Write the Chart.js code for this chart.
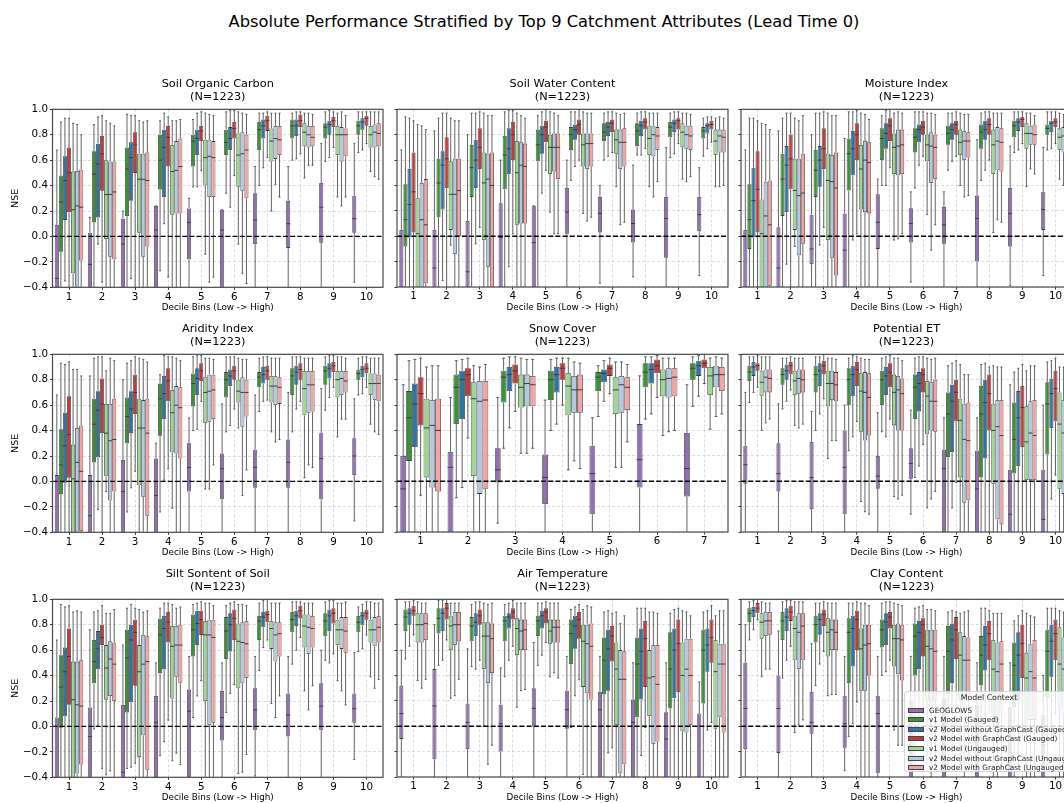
<!DOCTYPE html>
<html>
<head>
<meta charset="utf-8">
<script src="https://cdn.jsdelivr.net/npm/chart.js@4.4.1/dist/chart.umd.min.js"></script>
<style>
  body { margin: 0; background: #fff; }
  #fig { position: relative; width: 1064px; height: 803px; overflow: hidden; font-family: 'DejaVu Sans', sans-serif; }
  #suptitle { position: absolute; left: 0; width: 1088px; top: 12px; text-align: center; font-size: 16.3px; color: #000; }
  canvas { position: absolute; }
  #legend { position: absolute; left: 904px; top: 691px; width: 168px; height: 81px; background: rgba(255,255,255,0.82);
    border: 1px solid #d6d6d6; border-radius: 3px; box-sizing: border-box; color: #222; }
  #legend .ttl { position: absolute; left: 0; width: 168px; top: 1px; text-align: center; font-size: 7.8px; }
  #legend .row { position: absolute; left: 3px; height: 9px; font-size: 7.3px; line-height: 9px; white-space: nowrap; }
  #legend .sw { position: absolute; left: 0; top: 2px; width: 16px; height: 5px; border: 0.8px solid #444; box-sizing: border-box; }
  #legend .lb { position: absolute; left: 21px; top: 0; }
</style>
</head>
<body>
<div id="fig">
  <div id="suptitle">Absolute Performance Stratified by Top 9 Catchment Attributes (Lead Time 0)</div>
</div>
<script>
const seriesNames = ['GEOGLOWS', 'v1 Model (Gauged)', 'v2 Model without GraphCast (Gauged)', 'v2 Model with GraphCast (Gauged)',
  'v1 Model (Ungauged)', 'v2 Model without GraphCast (Ungauged)', 'v2 Model with GraphCast (Ungauged)'];
const seriesColors = ['#9370b2', '#3a923a', '#3173a1', '#c03d3e', '#9ed693', '#b4c8e2', '#f2a3a3'];
const decileLabels = ['1', '2', '3', '4', '5', '6', '7', '8', '9', '10'];
const snowLabels = ['1', '2', '3', '4', '5', '6', '7'];
const panelTitles = ['Soil Organic Carbon', 'Soil Water Content', 'Moisture Index', 'Aridity Index', 'Snow Cover',
  'Potential ET', 'Silt Sontent of Soil', 'Air Temperature', 'Clay Content'];
const sampleSize = 1223;

// each row = one decile bin, columns in seriesNames order

// Soil Organic Carbon
const socLo = [[-1,-1,-0.35,-1,-1,-1,-1],[-1,-1,-0.06,-0.36,-1,-1,-1],[-1,-1,-0.33,-1,-1,-1,-1],[-1,-0.27,0.10,-0.32,-1,-1,-1],
  [-1,0.39,0.39,0.52,-0.14,-0.36,-0.32],[-1,0.34,0.23,0.48,-0.06,-0.29,-0.37],[-1,0.40,0.54,0.62,0.20,0.41,0.31],
  [-1,0.60,0.61,0.65,0.46,0.56,0.56],[-1,0.59,0.62,0.70,0.31,0.24,0.31],[-0.36,0.66,0.68,0.73,0.51,0.47,0.45]];
const socQ1 = [[-0.6,-0.12,0.13,0.19,-0.29,-0.5,-0.19],[-0.6,0.11,0.15,0.36,-0.02,-0.16,-0.18],[-0.6,0.16,0.28,0.50,0.03,-0.16,-0.08],
  [-0.6,0.37,0.31,0.55,0.17,0.18,0.18],[-0.18,0.55,0.64,0.75,0.40,0.31,0.31],[-0.6,0.64,0.68,0.77,0.39,0.36,0.30],
  [-0.06,0.68,0.77,0.83,0.59,0.61,0.64],[-0.09,0.77,0.79,0.86,0.71,0.70,0.71],[-0.05,0.77,0.80,0.86,0.64,0.59,0.63],
  [0.03,0.80,0.84,0.87,0.70,0.70,0.71]];
const socMed = [[-0.33,0.27,0.44,0.50,0.21,0.24,0.23],[-0.22,0.49,0.57,0.65,0.33,0.33,0.35],[-0.06,0.53,0.62,0.72,0.45,0.45,0.44],
  [0.05,0.60,0.70,0.78,0.51,0.52,0.55],[0.11,0.75,0.77,0.83,0.62,0.63,0.62],[0.05,0.74,0.77,0.85,0.64,0.65,0.68],
  [0.13,0.84,0.87,0.91,0.75,0.77,0.76],[0.10,0.87,0.87,0.91,0.82,0.80,0.78],[0.23,0.86,0.88,0.91,0.80,0.80,0.80],
  [0.14,0.87,0.90,0.93,0.80,0.82,0.81]];
const socQ3 = [[0.09,0.48,0.63,0.70,0.51,0.515,0.525],[0.03,0.67,0.73,0.79,0.60,0.59,0.59],[0.14,0.70,0.74,0.82,0.65,0.65,0.66],
  [0.24,0.80,0.84,0.87,0.72,0.75,0.77],[0.22,0.80,0.84,0.87,0.76,0.76,0.75],[0.21,0.84,0.86,0.90,0.81,0.82,0.80],
  [0.34,0.90,0.92,0.95,0.85,0.87,0.87],[0.28,0.92,0.92,0.96,0.89,0.87,0.87],[0.42,0.89,0.91,0.94,0.87,0.86,0.85],
  [0.32,0.91,0.93,0.95,0.87,0.88,0.89]];
const socHi = [[0.68,0.90,0.93,0.93,0.89,0.88,0.80],[0.15,0.88,0.94,0.95,0.91,0.89,0.87],[0.20,0.96,0.95,0.95,0.91,0.90,0.91],
  [0.24,0.91,0.97,0.94,0.91,0.91,0.92],[0.30,0.92,0.97,0.98,0.97,0.96,0.95],[0.21,0.98,0.99,0.99,0.98,0.97,0.96],
  [0.55,0.97,0.97,0.98,0.97,0.97,0.97],[0.55,0.97,0.98,0.98,0.97,0.97,0.96],[0.73,0.98,0.99,0.98,0.97,0.98,0.95],
  [0.73,0.98,0.98,0.98,0.98,0.98,0.98]];

// Soil Water Content
const swcLo = [[-1,-1,-1,-1,-1,-1,-1],[-1,-1,-0.35,-1,-0.07,-1,-1],[-1,-1,-0.06,0.07,-1,-1,-1],[-1,-1,-0.24,0.02,-1,-1,-1],
  [-1,-1,0.34,0.52,0.19,0.02,0.02],[-1,0.44,0.55,0.60,0.18,0.12,0.15],[-0.37,0.60,0.63,0.66,0.39,0.09,0.11],
  [-0.32,0.64,0.64,0.69,0.39,0.31,0.43],[-1,0.62,0.65,0.73,0.45,0.43,0.47],[-0.31,0.63,0.69,0.74,0.39,0.39,0.40]];
const swcQ1 = [[-0.9,-0.08,-0.01,0.03,-0.6,-0.6,-0.37],[-0.6,0.15,0.21,0.38,0.05,-0.14,0.0],[-0.6,0.31,0.38,0.53,-0.03,-0.24,-0.6],
  [-0.6,0.37,0.49,0.60,0.09,0.10,0.10],[-0.6,0.59,0.65,0.74,0.49,0.51,0.45],[0.02,0.68,0.76,0.80,0.55,0.53,0.55],
  [0.03,0.75,0.79,0.82,0.65,0.53,0.55],[-0.05,0.71,0.79,0.84,0.64,0.63,0.68],[-0.17,0.78,0.82,0.84,0.70,0.69,0.68],
  [0.04,0.77,0.81,0.84,0.64,0.66,0.66]];
const swcMed = [[-0.5,0.13,0.25,0.35,0.02,0.13,0.09],[-0.25,0.42,0.56,0.61,0.33,0.33,0.36],[-0.28,0.54,0.60,0.70,0.42,0.45,0.40],
  [-0.01,0.64,0.69,0.80,0.50,0.56,0.55],[-0.05,0.72,0.80,0.86,0.70,0.70,0.70],[0.19,0.80,0.84,0.88,0.72,0.73,0.73],
  [0.18,0.82,0.86,0.89,0.76,0.74,0.74],[0.10,0.83,0.87,0.90,0.77,0.80,0.79],[0.14,0.86,0.89,0.91,0.82,0.80,0.79],
  [0.17,0.83,0.87,0.88,0.75,0.79,0.78]];
const swcQ3 = [[0.05,0.41,0.53,0.66,0.30,0.42,0.45],[0.05,0.61,0.67,0.78,0.59,0.61,0.61],[0.12,0.72,0.76,0.85,0.66,0.65,0.66],
  [0.26,0.79,0.85,0.90,0.75,0.74,0.73],[0.24,0.84,0.87,0.91,0.80,0.81,0.81],[0.38,0.86,0.88,0.92,0.81,0.81,0.81],
  [0.31,0.89,0.90,0.92,0.84,0.84,0.85],[0.21,0.89,0.91,0.93,0.87,0.87,0.86],[0.31,0.90,0.92,0.93,0.89,0.87,0.87],
  [0.31,0.86,0.89,0.91,0.84,0.84,0.84]];
const swcHi = [[0.68,0.94,0.93,0.91,0.88,0.87,0.84],[0.83,0.93,0.97,0.97,0.93,0.91,0.91],[0.80,0.97,0.97,0.98,0.97,0.95,0.95],
  [0.60,0.98,0.99,0.99,0.97,0.95,0.93],[0.24,0.95,0.98,1.00,0.98,0.97,0.95],[0.60,0.98,0.98,1.00,0.98,0.97,0.97],
  [0.40,0.97,0.98,0.98,0.97,0.96,0.97],[0.56,0.97,0.98,0.98,0.97,0.97,0.97],[0.70,0.97,0.98,0.98,0.97,0.97,0.96],
  [0.54,0.93,0.94,0.94,0.93,0.94,0.93]];

// Moisture Index
const miLo = [[-1,-1,-1,-1,-1,-1,-1],[-1,-1,-0.22,-1,-0.08,-1,-1],[-1,-1,-0.07,0.07,-1,-1,-1],[-1,-1,-0.03,0.02,-1,-1,-1],
  [-1,0.40,0.40,0.54,-0.03,-0.02,0.02],[-0.36,0.38,0.56,0.63,0.17,-0.11,0.09],[-1,0.52,0.59,0.63,0.40,0.31,0.32],
  [-1,0.44,0.52,0.60,0.03,0.13,0.11],[-0.39,0.66,0.68,0.73,0.39,0.53,0.49],[-0.31,0.68,0.69,0.73,0.45,0.40,0.40]];
const miQ1 = [[-0.9,-0.10,-0.01,0.03,-0.6,-0.6,-0.39],[-0.6,0.16,0.19,0.37,0.05,-0.15,-0.06],[-0.22,0.31,0.39,0.53,-0.03,-0.17,-0.31],
  [-0.6,0.36,0.48,0.60,0.21,0.19,0.18],[-0.10,0.60,0.69,0.75,0.49,0.48,0.49],[-0.05,0.66,0.74,0.80,0.59,0.42,0.45],
  [-0.06,0.72,0.76,0.80,0.64,0.60,0.62],[-0.20,0.69,0.76,0.80,0.49,0.52,0.51],[-0.08,0.78,0.83,0.86,0.69,0.72,0.72],
  [0.05,0.80,0.82,0.86,0.68,0.66,0.66]];
const miMed = [[-0.5,0.13,0.28,0.37,0.02,0.16,0.09],[-0.25,0.45,0.56,0.61,0.36,0.32,0.34],[-0.10,0.52,0.60,0.69,0.44,0.43,0.38],
  [-0.11,0.65,0.69,0.80,0.53,0.60,0.58],[0.11,0.77,0.81,0.87,0.70,0.71,0.72],[0.10,0.78,0.84,0.86,0.72,0.71,0.70],
  [0.09,0.81,0.84,0.88,0.74,0.75,0.75],[0.14,0.82,0.84,0.88,0.72,0.75,0.74],[0.18,0.87,0.90,0.92,0.81,0.81,0.80],
  [0.21,0.85,0.89,0.90,0.78,0.79,0.78]];
const miQ3 = [[0.05,0.41,0.54,0.67,0.29,0.43,0.44],[0.07,0.65,0.71,0.80,0.61,0.61,0.65],[0.17,0.68,0.71,0.85,0.65,0.64,0.66],
  [0.18,0.77,0.83,0.89,0.72,0.75,0.74],[0.33,0.85,0.89,0.93,0.81,0.84,0.84],[0.22,0.85,0.88,0.91,0.80,0.82,0.80],
  [0.23,0.87,0.89,0.91,0.84,0.83,0.82],[0.32,0.88,0.91,0.93,0.84,0.86,0.85],[0.38,0.91,0.93,0.94,0.89,0.87,0.88],
  [0.35,0.88,0.91,0.93,0.85,0.86,0.85]];
const miHi = [[0.68,0.93,0.93,0.91,0.89,0.88,0.84],[0.83,0.93,0.97,0.97,0.93,0.91,0.95],[0.80,0.97,0.97,0.98,0.97,0.95,0.95],
  [0.77,0.98,0.98,0.99,0.97,0.96,0.92],[0.45,0.95,0.99,1.00,0.97,0.98,0.97],[0.35,0.98,0.98,0.98,0.97,0.97,0.96],
  [0.35,0.97,0.97,0.98,0.97,0.96,0.96],[0.76,0.97,0.98,0.98,0.97,0.97,0.97],[0.71,0.98,0.98,0.98,0.97,0.97,0.95],
  [0.70,0.98,0.98,0.98,0.97,0.96,0.95]];

// Aridity Index
const aiLo = [[-1,-1,-1,-1,-1,-1,-1],[-1,-1,-0.22,-1,-0.08,-1,-1],[-1,-0.24,-0.05,0.08,-1,-1,-1],[-1,-0.24,0.01,0.10,-0.21,-1,-1],
  [-1,0.40,0.41,0.63,-0.06,-0.06,0.13],[-1,0.39,0.44,0.57,0.42,-0.11,0.09],[-1,0.55,0.63,0.64,0.39,0.31,0.33],
  [-1,0.39,0.57,0.63,0.03,0.13,0.11],[-1,0.56,0.66,0.74,0.35,0.49,0.49],[-0.31,0.68,0.69,0.74,0.45,0.39,0.37]];
const aiQ1 = [[-0.9,-0.10,-0.01,0.03,-0.6,-0.6,-0.39],[-0.6,0.15,0.19,0.38,0.04,-0.15,-0.08],[-0.6,0.30,0.38,0.53,-0.03,-0.12,-0.27],
  [-0.6,0.36,0.49,0.63,0.23,0.22,0.18],[-0.08,0.59,0.68,0.79,0.46,0.47,0.49],[-0.14,0.66,0.75,0.80,0.62,0.43,0.51],
  [-0.05,0.74,0.77,0.80,0.62,0.60,0.61],[-0.05,0.68,0.76,0.80,0.52,0.54,0.55],[-0.14,0.76,0.81,0.86,0.66,0.68,0.70],
  [0.05,0.80,0.82,0.85,0.68,0.64,0.63]];
const aiMed = [[-0.5,0.13,0.28,0.37,0.02,0.15,0.08],[-0.27,0.45,0.56,0.61,0.38,0.32,0.33],[-0.08,0.51,0.57,0.70,0.42,0.42,0.38],
  [-0.11,0.65,0.69,0.79,0.54,0.60,0.58],[0.11,0.77,0.81,0.87,0.70,0.71,0.72],[0.10,0.80,0.83,0.87,0.71,0.70,0.70],
  [0.11,0.82,0.84,0.87,0.75,0.75,0.74],[0.15,0.83,0.86,0.88,0.73,0.76,0.76],[0.18,0.87,0.89,0.91,0.80,0.81,0.79],
  [0.20,0.85,0.88,0.89,0.77,0.77,0.77]];
const aiQ3 = [[0.05,0.41,0.54,0.67,0.29,0.42,0.44],[0.05,0.65,0.71,0.81,0.61,0.61,0.65],[0.17,0.66,0.71,0.84,0.65,0.64,0.65],
  [0.18,0.77,0.83,0.89,0.72,0.75,0.74],[0.30,0.85,0.89,0.93,0.82,0.84,0.84],[0.22,0.86,0.88,0.91,0.80,0.82,0.80],
  [0.25,0.86,0.90,0.91,0.83,0.83,0.82],[0.33,0.89,0.91,0.93,0.87,0.87,0.87],[0.38,0.91,0.93,0.94,0.87,0.87,0.87],
  [0.34,0.88,0.91,0.93,0.85,0.85,0.84]];
const aiHi = [[0.68,0.93,0.92,0.94,0.88,0.88,0.83],[0.83,0.97,0.98,0.98,0.87,0.97,0.95],[0.80,0.93,0.95,0.98,0.97,0.96,0.94],
  [0.30,0.84,0.99,0.98,0.98,0.97,0.95],[0.50,0.98,0.99,0.99,0.97,0.97,0.96],[0.61,0.98,0.98,0.98,0.97,0.96,0.96],
  [0.68,0.97,0.98,0.98,0.97,0.97,0.97],[0.70,0.98,0.98,0.98,0.97,0.97,0.97],[0.73,0.98,0.99,0.99,0.98,0.98,0.97],
  [0.65,0.97,0.98,0.98,0.97,0.97,0.97]];

// Snow Cover (7 bins)
const snowLo = [[-1,-1,-1,-0.11,-1,-1,-1],[-1,-0.13,-0.05,0.34,-1,-1,-1],[-0.33,0.26,0.42,0.55,0.22,0.22,0.26],
  [-1,0.40,0.45,0.60,0.09,0.16,0.10],[-1,0.51,0.63,0.69,0.11,0.11,0.31],[-1,0.49,0.53,0.66,0.36,0.39,0.40],
  [-1,0.59,0.67,0.77,0.41,0.51,0.53]];
const snowQ1 = [[-0.6,0.16,0.27,0.44,0.03,-0.05,-0.08],[-0.6,0.45,0.49,0.67,0.04,-0.10,-0.06],[-0.01,0.62,0.71,0.77,0.58,0.59,0.59],
  [-0.18,0.64,0.70,0.80,0.52,0.54,0.54],[-0.26,0.71,0.78,0.83,0.53,0.54,0.56],[-0.05,0.74,0.77,0.85,0.67,0.66,0.67],
  [-0.12,0.80,0.83,0.89,0.68,0.74,0.71]];
const snowMed = [[-0.06,0.50,0.61,0.69,0.42,0.44,0.40],[0.11,0.74,0.80,0.84,0.65,0.63,0.64],[0.09,0.82,0.84,0.87,0.74,0.77,0.76],
  [0.03,0.80,0.84,0.89,0.75,0.72,0.72],[0.06,0.82,0.85,0.89,0.72,0.76,0.74],[0.17,0.86,0.88,0.91,0.80,0.81,0.82],
  [0.10,0.89,0.91,0.93,0.83,0.84,0.84]];
const snowQ3 = [[0.20,0.71,0.77,0.82,0.65,0.64,0.65],[0.23,0.84,0.87,0.89,0.78,0.79,0.79],[0.26,0.87,0.90,0.92,0.84,0.84,0.83],
  [0.21,0.87,0.90,0.93,0.85,0.83,0.84],[0.28,0.86,0.88,0.92,0.82,0.83,0.82],[0.45,0.93,0.93,0.96,0.88,0.89,0.89],
  [0.38,0.93,0.95,0.96,0.90,0.91,0.90]];
const snowHi = [[0.76,0.95,0.96,0.97,0.90,0.91,0.91],[0.66,0.95,0.96,0.97,0.91,0.90,0.92],[0.66,0.97,0.98,0.98,0.97,0.96,0.96],
  [0.64,0.96,0.97,0.97,0.97,0.94,0.93],[0.50,0.91,0.95,0.97,0.94,0.94,0.92],[0.83,0.98,0.98,0.99,0.97,0.97,0.97],
  [0.76,0.98,0.99,1.00,0.97,0.98,0.97]];

// Potential ET
const petLo = [[-1,0.62,0.70,0.74,0.40,0.46,0.49],[-1,0.57,0.63,0.72,0.44,0.42,0.45],[-1,0.40,0.53,0.65,0.18,0.32,0.32],
  [-1,0.24,0.35,0.47,-0.16,-0.24,-0.26],[-1,0.39,0.35,0.49,-0.12,-0.14,-0.11],[-0.26,0.03,0.12,0.29,-0.21,-0.14,-0.08],
  [-1,-1,-0.21,-0.01,-1,-1,-1],[-1,-1,-1,-1,-1,-1,-1],[-1,-1,-1,-1,-1,-1,-1],[-1,-1,-0.14,0.05,-1,-1,-1]];
const petQ1 = [[-0.02,0.79,0.83,0.87,0.67,0.70,0.70],[-0.08,0.76,0.80,0.84,0.68,0.69,0.70],[-0.22,0.70,0.75,0.84,0.59,0.64,0.63],
  [-0.26,0.60,0.67,0.75,0.39,0.32,0.36],[-0.06,0.60,0.68,0.74,0.44,0.40,0.40],[0.02,0.49,0.55,0.70,0.37,0.40,0.39],
  [-0.6,0.19,0.23,0.47,0.03,-0.17,-0.15],[-0.6,0.03,0.18,0.40,-0.02,-0.30,-0.34],[-0.6,0.06,0.12,0.27,0.01,0.01,0.01],
  [-0.6,0.21,0.42,0.47,-0.06,-0.10,-0.05]];
const petMed = [[0.13,0.86,0.90,0.91,0.78,0.82,0.81],[0.06,0.84,0.87,0.91,0.79,0.81,0.80],[0.03,0.84,0.87,0.91,0.77,0.77,0.76],
  [0.11,0.80,0.84,0.88,0.71,0.70,0.66],[0.04,0.80,0.83,0.86,0.70,0.72,0.69],[0.14,0.74,0.77,0.84,0.67,0.63,0.63],
  [0.10,0.53,0.63,0.70,0.48,0.33,0.32],[-0.06,0.53,0.62,0.69,0.40,0.43,0.36],[-0.26,0.33,0.50,0.58,0.31,0.38,0.36],
  [-0.3,0.61,0.69,0.73,0.45,0.38,0.40]];
const petQ3 = [[0.28,0.91,0.94,0.93,0.87,0.88,0.88],[0.30,0.89,0.92,0.94,0.87,0.88,0.88],[0.31,0.91,0.93,0.95,0.87,0.87,0.86],
  [0.40,0.89,0.91,0.94,0.85,0.86,0.85],[0.20,0.87,0.90,0.93,0.84,0.83,0.81],[0.26,0.84,0.86,0.89,0.79,0.78,0.80],
  [0.25,0.70,0.76,0.80,0.65,0.61,0.62],[0.24,0.75,0.80,0.84,0.61,0.64,0.64],[0.09,0.62,0.71,0.75,0.59,0.63,0.64],
  [0.09,0.78,0.81,0.87,0.70,0.64,0.66]];
const petHi = [[0.70,0.98,0.98,0.99,0.98,0.98,0.98],[0.61,0.97,0.97,0.98,0.97,0.97,0.97],[0.55,0.98,0.98,1.00,0.97,0.97,0.96],
  [0.60,0.97,0.99,0.98,0.97,0.96,0.96],[0.54,0.97,0.98,0.99,0.97,0.97,0.95],[0.56,0.97,0.98,0.98,0.97,0.96,0.97],
  [0.50,0.91,0.93,0.95,0.92,0.84,0.84],[0.50,0.92,0.93,0.90,0.91,0.90,0.90],[0.76,0.86,0.89,0.92,0.87,0.91,0.91],
  [0.60,0.94,0.95,0.97,0.90,0.90,0.90]];

// Silt Content of Soil
const siltLo = [[-1,-1,-1,-1,-1,-1,-1],[-1,-0.02,0.01,-0.33,-0.38,-0.35,-1],[-1,-0.33,-0.32,-0.29,-1,-1,-1],
  [-1,-0.23,-0.12,0.05,-0.27,-0.21,-0.30],[-1,0.07,0.24,0.36,-1,-1,-1],[-1,0.11,0.26,0.33,-0.37,-0.36,-0.22],
  [-0.39,0.44,0.62,0.68,0.18,0.07,0.24],[-1,0.49,0.60,0.70,0.28,0.13,0.32],[-1,0.52,0.50,0.57,0.36,0.28,0.17],
  [-0.26,0.59,0.61,0.72,0.39,0.30,0.37]];
const siltQ1 = [[-0.9,-0.01,0.08,0.17,-0.6,-0.37,-0.30],[-0.6,0.34,0.45,0.64,0.21,0.24,0.20],[-0.6,0.11,0.19,0.32,-0.24,-0.07,-0.34],
  [-0.6,0.42,0.45,0.66,0.22,0.39,0.34],[-0.6,0.55,0.64,0.72,0.20,0.01,0.03],[-0.11,0.53,0.59,0.68,0.30,0.34,0.38],
  [-0.03,0.68,0.78,0.82,0.61,0.51,0.55],[-0.08,0.74,0.79,0.85,0.62,0.57,0.62],[-0.03,0.71,0.75,0.81,0.64,0.61,0.58],
  [0.03,0.74,0.80,0.84,0.66,0.63,0.66]];
const siltMed = [[-0.5,0.31,0.43,0.55,0.21,0.17,0.16],[-0.08,0.51,0.61,0.70,0.46,0.53,0.49],[-0.36,0.54,0.68,0.74,0.43,0.49,0.51],
  [0.03,0.72,0.77,0.82,0.63,0.64,0.64],[0.12,0.76,0.81,0.84,0.72,0.72,0.70],[0.07,0.75,0.80,0.85,0.67,0.66,0.65],
  [0.13,0.83,0.86,0.88,0.77,0.72,0.73],[0.09,0.84,0.87,0.91,0.79,0.78,0.77],[0.16,0.83,0.87,0.89,0.76,0.76,0.75],
  [0.14,0.82,0.87,0.89,0.76,0.76,0.78]];
const siltQ3 = [[0.07,0.56,0.62,0.77,0.51,0.51,0.52],[0.15,0.68,0.75,0.80,0.64,0.67,0.66],[0.17,0.76,0.80,0.84,0.64,0.72,0.71],
  [0.24,0.85,0.87,0.90,0.79,0.79,0.80],[0.29,0.88,0.91,0.91,0.83,0.84,0.84],[0.28,0.86,0.89,0.92,0.81,0.82,0.83],
  [0.30,0.87,0.90,0.91,0.83,0.82,0.82],[0.26,0.90,0.91,0.95,0.88,0.88,0.87],[0.34,0.89,0.92,0.93,0.84,0.86,0.86],
  [0.26,0.87,0.90,0.92,0.84,0.86,0.87]];
const siltHi = [[0.68,0.96,0.94,0.95,0.90,0.91,0.90],[0.76,0.90,0.91,0.95,0.89,0.89,0.92],[0.64,0.93,0.96,0.93,0.92,0.90,0.91],
  [0.50,0.93,0.97,0.97,0.96,0.93,0.94],[0.55,0.96,0.97,0.98,0.97,0.97,0.95],[0.50,0.95,0.97,0.98,0.96,0.96,0.95],
  [0.55,0.97,0.99,1.00,0.97,0.97,0.97],[0.55,0.98,0.98,0.98,0.97,0.97,0.97],[0.60,0.98,0.99,0.99,0.97,0.97,0.98],
  [0.58,0.94,0.96,0.98,0.98,0.97,0.97]];

// Air Temperature
const airLo = [[-1,0.53,0.63,0.72,0.36,0.30,0.37],[-1,0.48,0.52,0.68,0.22,0.24,0.37],[-1,0.47,0.45,0.52,0.00,-0.30,-0.15],
  [-1,0.39,0.52,0.63,0.15,0.28,0.29],[-1,0.48,0.56,0.66,0.39,0.42,0.38],[-1,-0.01,0.24,0.37,-0.38,-1,-1],
  [-1,-1,-0.21,-0.17,-1,-1,-1],[-1,-1,-0.23,-0.01,-1,-1,-1],[-1,-1,-1,-1,-1,-1,-1],[-1,-1,-0.03,0.03,-1,-1,-1]];
const airQ1 = [[-0.10,0.75,0.80,0.87,0.66,0.66,0.68],[-0.26,0.73,0.75,0.84,0.60,0.64,0.67],[-0.18,0.67,0.71,0.80,0.45,0.34,0.42],
  [-0.20,0.67,0.77,0.84,0.56,0.60,0.60],[0.00,0.71,0.77,0.81,0.65,0.66,0.66],[-0.02,0.49,0.61,0.69,0.31,0.26,0.21],
  [-0.6,0.25,0.28,0.51,0.01,-0.37,-0.30],[-0.6,0.07,0.21,0.31,0.08,-0.14,-0.12],[-0.6,0.14,0.22,0.27,-0.04,-0.05,0.01],
  [-0.6,0.18,0.43,0.50,-0.02,0.07,-0.05]];
const airMed = [[0.10,0.86,0.89,0.91,0.80,0.80,0.81],[0.16,0.85,0.89,0.93,0.79,0.80,0.80],[0.03,0.79,0.82,0.87,0.71,0.71,0.69],
  [0.02,0.83,0.86,0.90,0.77,0.75,0.76],[0.14,0.83,0.87,0.90,0.75,0.78,0.78],[0.13,0.73,0.79,0.84,0.67,0.65,0.63],
  [0.13,0.52,0.61,0.71,0.45,0.37,0.37],[0.03,0.49,0.59,0.69,0.38,0.39,0.33],[-0.10,0.45,0.60,0.65,0.40,0.45,0.40],
  [-0.5,0.60,0.64,0.70,0.43,0.49,0.49]];
const airQ3 = [[0.32,0.92,0.93,0.95,0.89,0.89,0.89],[0.45,0.93,0.93,0.97,0.87,0.90,0.90],[0.18,0.86,0.89,0.92,0.82,0.82,0.81],
  [0.17,0.87,0.89,0.93,0.85,0.84,0.84],[0.30,0.87,0.91,0.93,0.84,0.84,0.84],[0.28,0.84,0.87,0.90,0.80,0.80,0.81],
  [0.27,0.70,0.76,0.79,0.66,0.60,0.59],[0.21,0.70,0.77,0.83,0.60,0.64,0.64],[0.11,0.74,0.77,0.84,0.66,0.69,0.69],
  [0.10,0.76,0.77,0.84,0.68,0.65,0.65]];
const airHi = [[0.60,0.98,0.98,0.99,0.98,0.97,0.97],[0.80,0.99,0.99,1.00,0.97,0.97,0.97],[0.61,0.96,0.98,0.98,0.97,0.96,0.97],
  [0.46,0.96,0.97,0.99,0.97,0.97,0.97],[0.66,0.97,0.97,0.98,0.97,0.97,0.97],[0.55,0.92,0.94,0.96,0.92,0.95,0.94],
  [0.55,0.90,0.91,0.89,0.90,0.81,0.87],[0.50,0.93,0.93,0.93,0.90,0.90,0.89],[0.50,0.89,0.92,0.93,0.91,0.90,0.87],
  [0.35,0.90,0.91,0.95,0.87,0.91,0.91]];

// Clay Content
const clayLo = [[-1,0.68,0.76,0.84,0.39,0.45,0.45],[-1,0.38,0.52,0.63,-0.05,0.01,0.05],[-1,0.32,0.49,0.59,0.24,0.25,0.25],
  [-0.35,-0.08,0.02,0.19,-1,-1,-1],[-1,0.40,0.43,0.52,-0.03,-0.15,-0.15],[-1,-0.30,-0.10,0.10,-0.30,-0.40,-0.30],
  [-1,-0.30,-0.20,0.00,-0.30,-0.40,-0.30],[-1,-0.20,-0.10,0.10,-0.40,-0.40,-0.30],[-1,-0.40,-0.30,-0.10,-0.40,-0.40,-0.40],
  [-1,-0.30,-0.10,0.10,-0.40,-0.40,-0.40]];
const clayQ1 = [[-0.18,0.82,0.86,0.89,0.69,0.71,0.72],[-0.21,0.68,0.75,0.83,0.52,0.45,0.52],[-0.06,0.66,0.72,0.79,0.55,0.60,0.60],
  [-0.17,0.34,0.47,0.60,0.28,0.28,0.40],[-0.37,0.62,0.64,0.77,0.47,0.41,0.36],[-0.5,0.40,0.45,0.55,0.20,0.15,0.20],
  [-0.5,0.25,0.34,0.53,0.20,0.15,0.20],[-0.5,0.32,0.44,0.52,0.10,0.05,0.10],[-0.5,0.15,0.20,0.38,0.00,0.05,0.05],
  [-0.5,0.23,0.39,0.52,0.15,0.10,0.10]];
const clayMed = [[0.14,0.89,0.91,0.93,0.82,0.83,0.83],[0.14,0.83,0.86,0.90,0.77,0.74,0.79],[0.03,0.80,0.84,0.88,0.74,0.76,0.74],
  [0.02,0.74,0.77,0.84,0.61,0.64,0.65],[0.10,0.76,0.82,0.86,0.69,0.69,0.68],[-0.05,0.71,0.74,0.80,0.63,0.61,0.59],
  [-0.05,0.59,0.68,0.76,0.56,0.52,0.52],[-0.10,0.56,0.64,0.73,0.45,0.43,0.49],[-0.10,0.48,0.56,0.65,0.38,0.43,0.38],
  [-0.15,0.59,0.67,0.73,0.49,0.45,0.45]];
const clayQ3 = [[0.50,0.93,0.94,0.97,0.89,0.90,0.90],[0.40,0.90,0.93,0.95,0.87,0.89,0.89],[0.27,0.87,0.89,0.92,0.85,0.84,0.84],
  [0.24,0.85,0.87,0.91,0.77,0.80,0.80],[0.24,0.84,0.89,0.90,0.80,0.81,0.80],[0.20,0.81,0.83,0.85,0.76,0.76,0.76],
  [0.22,0.79,0.81,0.86,0.74,0.71,0.70],[0.17,0.71,0.79,0.83,0.68,0.66,0.67],[0.15,0.66,0.74,0.80,0.58,0.65,0.68],
  [0.09,0.76,0.80,0.84,0.78,0.70,0.70]];
const clayHi = [[0.80,0.98,0.99,1.00,0.98,0.97,0.97],[0.75,0.98,0.99,0.99,0.98,0.98,0.98],[0.65,0.97,0.97,0.98,0.97,0.97,0.97],
  [0.55,0.97,0.97,0.98,0.97,0.97,0.95],[0.55,0.97,0.98,0.98,0.97,0.96,0.95],[0.55,0.93,0.94,0.95,0.92,0.92,0.91],
  [0.55,0.90,0.91,0.90,0.89,0.90,0.91],[0.50,0.93,0.93,0.91,0.89,0.89,0.89],[0.50,0.83,0.87,0.91,0.89,0.87,0.86],
  [0.40,0.93,0.93,0.93,0.91,0.90,0.90]];

const panels = [
  {labels: decileLabels, lo: socLo, q1: socQ1, med: socMed, q3: socQ3, hi: socHi},
  {labels: decileLabels, lo: swcLo, q1: swcQ1, med: swcMed, q3: swcQ3, hi: swcHi},
  {labels: decileLabels, lo: miLo, q1: miQ1, med: miMed, q3: miQ3, hi: miHi},
  {labels: decileLabels, lo: aiLo, q1: aiQ1, med: aiMed, q3: aiQ3, hi: aiHi},
  {labels: snowLabels, lo: snowLo, q1: snowQ1, med: snowMed, q3: snowQ3, hi: snowHi},
  {labels: decileLabels, lo: petLo, q1: petQ1, med: petMed, q3: petQ3, hi: petHi},
  {labels: decileLabels, lo: siltLo, q1: siltQ1, med: siltMed, q3: siltQ3, hi: siltHi},
  {labels: decileLabels, lo: airLo, q1: airQ1, med: airMed, q3: airQ3, hi: airHi},
  {labels: decileLabels, lo: clayLo, q1: clayQ1, med: clayMed, q3: clayQ3, hi: clayHi},
];

// where each plot area has to land on the page
const colLeft = [52.5, 396.8, 741];
const rowTop = [109, 354, 599];
const plotW = 331, plotH = 178;
const lineColor = '#3d3d3d';
const FONT = "'DejaVu Sans', sans-serif";

// whiskers, caps, medians, zero line and frame
const boxPlugin = {
  id: 'boxWhiskers',
  afterDatasetsDraw(chart) {
    const {ctx, chartArea: a, scales: {y}} = chart;
    ctx.save();
    ctx.beginPath();
    ctx.rect(a.left, a.top, a.width, a.height);
    ctx.clip();
    ctx.strokeStyle = lineColor;
    ctx.lineWidth = 1;
    const seg = (x1, y1, x2, y2) => { ctx.beginPath(); ctx.moveTo(x1, y1); ctx.lineTo(x2, y2); ctx.stroke(); };
    chart.data.datasets.forEach((ds, i) => {
      chart.getDatasetMeta(i).data.forEach((bar, j) => {
        const {x, width} = bar.getProps(['x', 'width'], true);
        const yLo = y.getPixelForValue(ds.lo[j]), yQ1 = y.getPixelForValue(ds.data[j][0]);
        const yQ3 = y.getPixelForValue(ds.data[j][1]), yHi = y.getPixelForValue(ds.hi[j]);
        const yMed = y.getPixelForValue(ds.med[j]);
        ctx.globalAlpha = 0.8;
        seg(x, yQ3, x, yHi);
        seg(x, yQ1, x, yLo);
        seg(x - width / 4, yHi, x + width / 4, yHi);
        seg(x - width / 4, yLo, x + width / 4, yLo);
        ctx.globalAlpha = 1;
        seg(x - width / 2, yMed, x + width / 2, yMed);
      });
    });
    const y0 = y.getPixelForValue(0);
    ctx.strokeStyle = '#000';
    ctx.lineWidth = 1.3;
    ctx.setLineDash([5, 2.2]);
    seg(a.left, y0, a.right, y0);
    ctx.restore();
  },
  afterDraw(chart) {
    const {ctx, chartArea: a} = chart;
    ctx.save();
    ctx.strokeStyle = '#4a4a4a';
    ctx.lineWidth = 1.2;
    ctx.strokeRect(a.left, a.top, a.width, a.height);
    ctx.restore();
  }
};

const fig = document.getElementById('fig');

panels.forEach((p, idx) => {
  const col = idx % 3, row = Math.floor(idx / 3);
  const yAxisW = col === 0 ? 52.5 : 4;
  const xAxisH = 30;
  const canvas = document.createElement('canvas');
  fig.appendChild(canvas);
  const w0 = yAxisW + plotW + 3, h0 = 31 + plotH + xAxisH;
  canvas.width = w0; canvas.height = h0;

  const datasets = seriesNames.map((name, s) => ({
    label: name,
    data: p.q1.map((bin, b) => [bin[s], p.q3[b][s]]),
    lo: p.lo.map(bin => bin[s]),
    med: p.med.map(bin => bin[s]),
    hi: p.hi.map(bin => bin[s]),
    backgroundColor: seriesColors[s],
    borderColor: lineColor,
    borderWidth: 0.8,
    borderSkipped: false,
    categoryPercentage: 0.86,
    barPercentage: 1.0,
    clip: 0,
  }));

  const chart = new Chart(canvas, {
    type: 'bar',
    data: {labels: p.labels, datasets},
    options: {
      responsive: false,
      animation: false,
      events: [],
      layout: {padding: {left: 0, right: 3, top: 0, bottom: 0}},
      plugins: {
        legend: {display: false},
        tooltip: {enabled: false},
        title: {
          display: true,
          text: [panelTitles[idx], '(N=' + sampleSize + ')'],
          fullSize: false,
          color: '#000',
          font: {family: FONT, size: 11.3, weight: 'normal', lineHeight: 1.12},
          padding: {top: 0, bottom: 6},
        },
      },
      scales: {
        x: {
          grid: {offset: false, color: 'rgba(176,176,176,0.55)', lineWidth: 0.8, tickLength: 2.5, tickColor: '#333', tickWidth: 1},
          border: {display: false, dash: [3, 2]},
          ticks: {font: {family: FONT, size: 10.3}, color: '#000', padding: 1, maxRotation: 0, autoSkip: false},
          title: {display: true, text: 'Decile Bins (Low -> High)', color: '#000',
            font: {family: FONT, size: 8.8}, padding: {top: 0, bottom: 4.4}},
          afterFit: s => { s.height = xAxisH; },
        },
        y: {
          min: -0.4,
          max: 1.0,
          grid: {color: 'rgba(176,176,176,0.55)', lineWidth: 0.8, tickLength: 2.5, tickColor: '#333', tickWidth: 1},
          border: {display: false, dash: [3, 2]},
          ticks: {
            display: col === 0,
            stepSize: 0.2,
            padding: 2,
            color: '#000',
            font: {family: FONT, size: 10.3},
            callback: v => (Math.abs(v) < 1e-9 ? '0.0' : v.toFixed(1)).replace('-', '\u2212'),
          },
          title: {display: col === 0, text: 'NSE', color: '#000', font: {family: FONT, size: 9.5}, padding: {top: 9.5, bottom: 0}},
          afterFit: s => { s.width = yAxisW; },
        },
      },
    },
    plugins: [boxPlugin],
  });

  // make the plot area exactly plotW x plotH and place it
  let ca = chart.chartArea;
  if (Math.abs(ca.width - plotW) > 0.01 || Math.abs(ca.height - plotH) > 0.01) {
    chart.resize(w0 + plotW - ca.width, h0 + plotH - ca.height);
    ca = chart.chartArea;
  }
  canvas.style.left = (colLeft[col] - ca.left) + 'px';
  canvas.style.top = (rowTop[row] - ca.top) + 'px';
});

// legend inside the last panel
const legend = document.createElement('div');
legend.id = 'legend';
legend.innerHTML = '<div class="ttl">Model Context</div>';
seriesNames.forEach((name, s) => {
  const rowEl = document.createElement('div');
  rowEl.className = 'row';
  rowEl.style.top = (13.5 + 9.6 * s) + 'px';
  rowEl.innerHTML = '<span class="sw" style="background:' + seriesColors[s] + '"></span><span class="lb"></span>';
  rowEl.querySelector('.lb').textContent = name;
  legend.appendChild(rowEl);
});
fig.appendChild(legend);
</script>
</body>
</html>
